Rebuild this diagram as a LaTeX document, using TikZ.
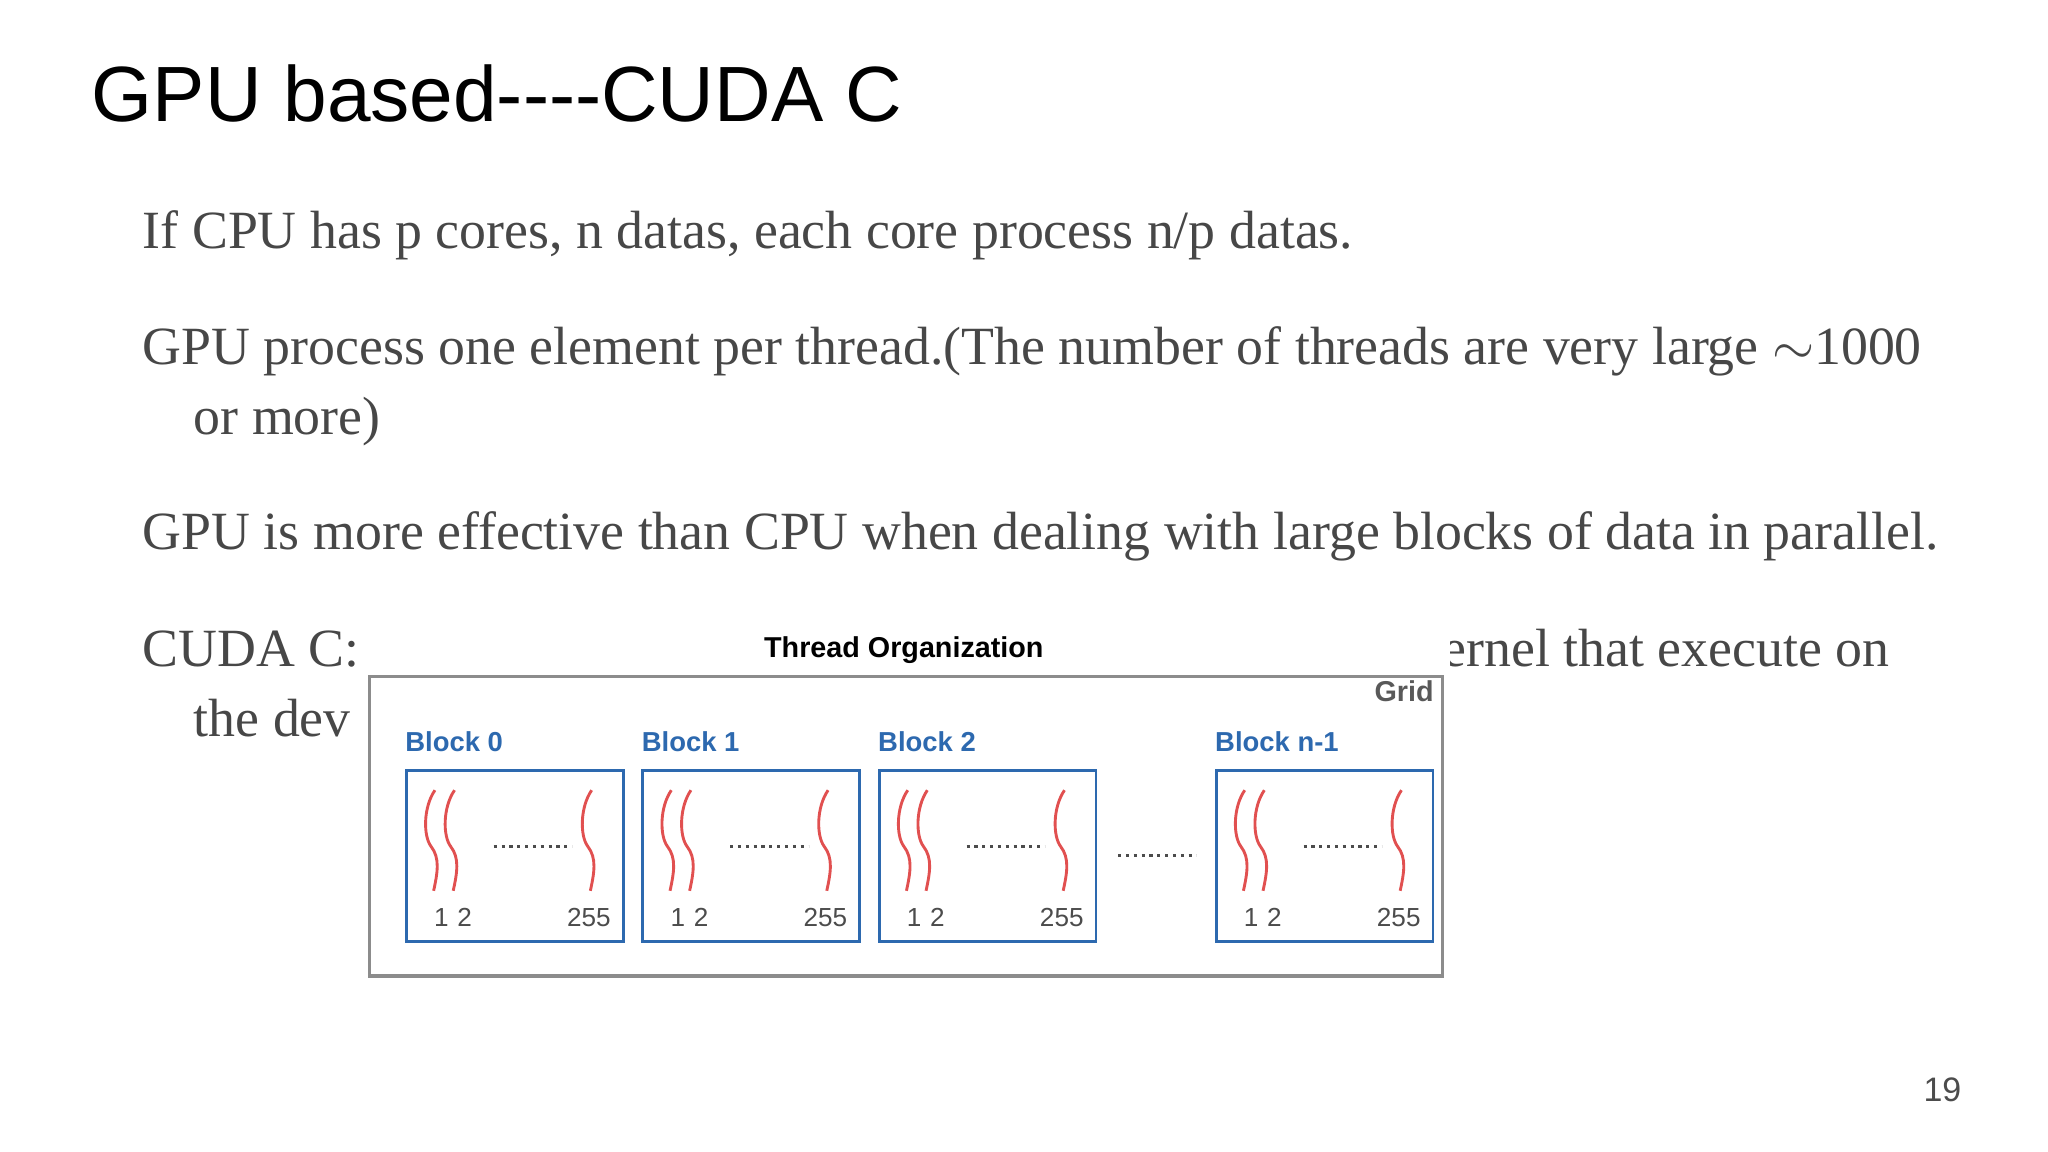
\documentclass[tikz,border=0pt]{standalone}
\usepackage{fontspec}
\setmainfont{Liberation Serif}
\newfontfamily\titlefont{Liberation Sans}
\newfontfamily\diafont{Liberation Sans}
\definecolor{bblue}{RGB}{45,105,175}
\definecolor{tred}{RGB}{225,80,80}
\begin{document}
\begin{tikzpicture}[x=0.5pt,y=-0.5pt,
  body/.style={anchor=base west,inner sep=0,font=\fontsize{20.6}{20.6}\selectfont,text=black!72},
  blockbox/.style={draw=bblue,line width=1.1pt,fill=white},
  blocklabel/.style={anchor=base west,inner sep=0,text=bblue,font=\diafont\bfseries\fontsize{10.5}{10.5}\selectfont},
  num/.style={inner sep=0,text=black!70,font=\diafont\fontsize{10}{10}\selectfont},
  thread/.style={draw=tred,line width=1.1pt},
  dotsline/.style={draw=black!70,line width=1.2pt,dash pattern=on 1.2pt off 1.8pt}]
\useasboundingbox (0,0) rectangle (1568,882);
\fill[white] (0,0) rectangle (1568,882);
\node[anchor=base west,inner sep=0,font=\titlefont\fontsize{30}{30}\selectfont] (title) at (70,93) {GPU based----CUDA C};
\node[body] (l1) at (109,190) {If CPU has p cores, n datas, each core process n/p datas.};
\node[body] (l2) at (109,279) {GPU process one element per thread.(The number of threads are very large $\sim$1000};
\node[body] (l2b) at (148,333) {or more)};
\node[body] (l3) at (109,421) {GPU is more effective than CPU when dealing with large blocks of data in parallel.};
\node[body] (l4) at (109,510) {CUDA C: H};
\node[body,anchor=base east] (l4r) at (1447,510) {ernel that execute on};
\node[body] (l5) at (148,564) {the dev};
% diagram
\fill[white] (276,478) rectangle (1110,752);
\node[font=\diafont\bfseries\fontsize{11}{11}\selectfont,inner sep=0] (dtitle) at (692,498) {Thread Organization};
\node[draw=black!45,line width=1.2pt,minimum width=410.5pt,minimum height=114.5pt,anchor=north west,inner sep=0] (grid) at (282,517) {};
\node[anchor=north east,inner sep=0,text=black!65,font=\diafont\bfseries\fontsize{11}{11}\selectfont] (gridlbl) at (1098,521) {Grid};
\foreach \bx/\lab/\i in {310/0/0,491/1/1,672/2/2,930/n-1/3}{
  \node[blockbox,minimum width=83pt,minimum height=65.5pt,anchor=north west,inner sep=0] (b\i) at (\bx,589) {};
  \node[blocklabel] (bl\i) at (\bx,575) {Block \lab};
  \foreach \t in {20,35,140}{
    \draw[thread] (\bx+\t+3,605) .. controls (\bx+\t-6,618) and (\bx+\t-6,640) .. (\bx+\t,648)
      .. controls (\bx+\t+7,657) and (\bx+\t+5,668) .. (\bx+\t+2,682);
  }
  \draw[dotsline] (\bx+68,648) -- (\bx+128,648);
  \node[num,anchor=base west] (n\i) at (\bx+22,709) {1\,\,2};
  \node[num,anchor=base east] (m\i) at (\bx+158,709) {255};
}
\draw[dotsline] (856,655) -- (916,655);
\node[anchor=base east,inner sep=0,text=black!70,font=\titlefont\fontsize{13}{13}\selectfont] (pg) at (1502,843) {19};
\end{tikzpicture}
\end{document}
